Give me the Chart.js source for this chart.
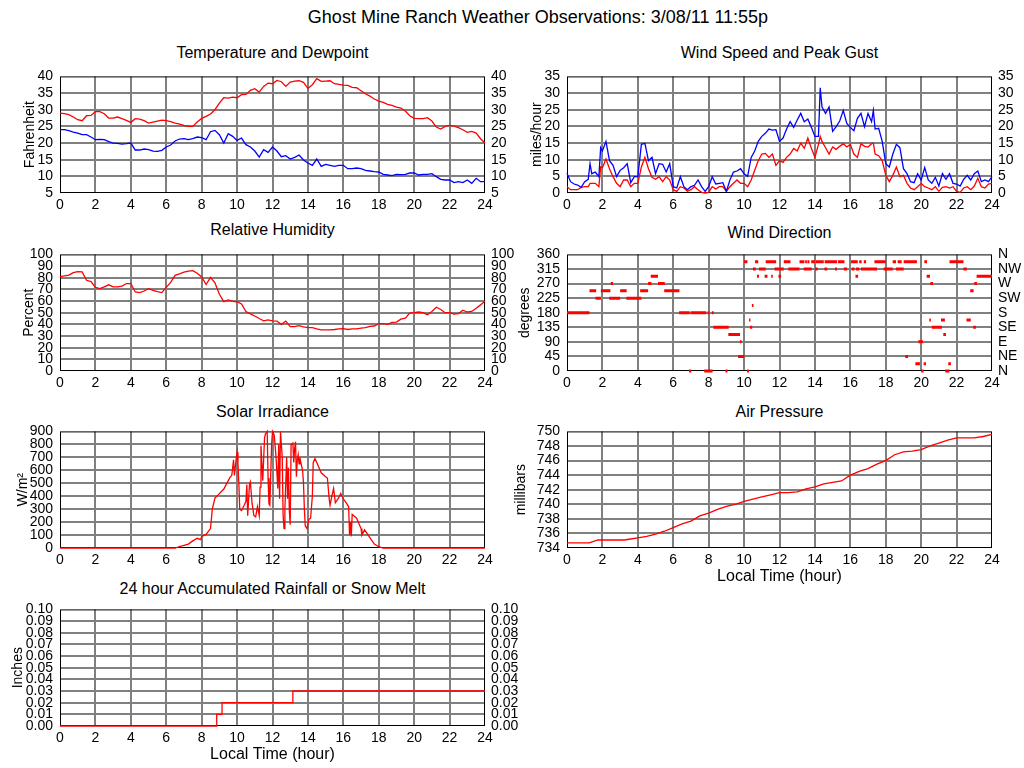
<!DOCTYPE html>
<html><head><meta charset="utf-8">
<script src="https://cdn.jsdelivr.net/npm/chart.js@4.4.1/dist/chart.umd.min.js"></script>
<style>
html,body{margin:0;padding:0;background:#fff;overflow:hidden;font-family:"Liberation Sans",Arial,sans-serif;color:#000}
canvas{position:absolute}
.t{position:absolute;width:425px;text-align:center;font-size:16px;line-height:18px;white-space:nowrap}
</style></head><body>
<div style="position:absolute;left:52px;width:972px;top:7px;text-align:center;font-size:18px;line-height:20px">Ghost Mine Ranch Weather Observations: 3/08/11 11:55p</div>
<div class="t" style="left:60px;top:44px">Temperature and Dewpoint</div>
<div class="t" style="left:567px;top:44px">Wind Speed and Peak Gust</div>
<div class="t" style="left:60px;top:221px">Relative Humidity</div>
<div class="t" style="left:567px;top:224px">Wind Direction</div>
<div class="t" style="left:60px;top:403px">Solar Irradiance</div>
<div class="t" style="left:567px;top:403px">Air Pressure</div>
<div class="t" style="left:60px;top:580px">24 hour Accumulated Rainfall or Snow Melt</div>
<canvas id="cTemp" width="525" height="154" style="left:0;top:61px"></canvas>
<canvas id="cWind" width="517" height="154" style="left:507px;top:61px"></canvas>
<canvas id="cHum" width="525" height="154" style="left:0;top:239px"></canvas>
<canvas id="cDir" width="517" height="154" style="left:507px;top:239px"></canvas>
<canvas id="cSolar" width="525" height="154" style="left:0;top:416px"></canvas>
<canvas id="cPress" width="517" height="178" style="left:507px;top:416px"></canvas>
<canvas id="cRain" width="525" height="178" style="left:0;top:594px"></canvas>
<script>
// quarter-hour samples
const qHours=[0,0.25,0.5,0.75,1,1.25,1.5,1.75,
2,2.25,2.5,2.75,3,3.25,3.5,3.75,
4,4.25,4.5,4.75,5,5.25,5.5,5.75,
6,6.25,6.5,6.75,7,7.25,7.5,7.75,
8,8.25,8.5,8.75,9,9.25,9.5,9.75,
10,10.25,10.5,10.75,11,11.25,11.5,11.75,
12,12.25,12.5,12.75,13,13.25,13.5,13.75,
14,14.25,14.5,14.75,15,15.25,15.5,15.75,
16,16.25,16.5,16.75,17,17.25,17.5,17.75,
18,18.25,18.5,18.75,19,19.25,19.5,19.75,
20,20.25,20.5,20.75,21,21.25,21.5,21.75,
22,22.25,22.5,22.75,23,23.25,23.5,23.75,24];

const tempF=[29.0,28.8,28.5,27.8,27.0,26.7,28.2,28.3,
29.4,29.4,28.8,27.5,27.5,27.8,27.3,26.8,
26.2,27.3,27.2,26.7,26.0,26.3,26.6,26.9,
26.7,26.4,26.0,25.7,25.3,25.0,25.0,26.3,
27.4,28.0,28.7,30.0,32.0,33.6,33.5,33.8,
33.6,34.5,34.6,35.8,36.3,35.3,37.0,38.0,
37.8,38.8,38.4,37.0,38.3,38.6,38.7,38.2,
36.4,37.5,39.3,38.5,38.6,38.7,37.8,37.6,
37.4,37.3,36.7,36.6,35.7,34.8,34.1,33.2,
32.6,32.2,31.6,31.3,30.8,30.5,29.6,28.2,
27.4,27.3,27.3,27.6,26.6,24.8,24.2,25.0,
25.3,25.1,24.6,24.0,23.2,23.5,23.0,21.3,20.0];

const dewF=[24.0,24.0,23.7,23.3,23.0,22.5,22.5,21.8,
21.0,21.1,21.0,20.4,20.0,19.9,19.7,19.8,
20.0,17.9,17.9,18.2,18.0,17.6,17.5,17.8,
18.8,19.4,20.6,21.2,21.3,21.0,21.3,21.8,
21.6,21.0,23.4,23.8,22.5,20.0,22.8,22.0,
20.8,21.5,19.5,18.8,17.6,15.8,18.0,17.2,
18.8,17.6,15.9,16.2,15.2,15.7,16.4,14.9,
14.0,13.3,15.2,13.0,13.6,13.3,13.0,13.3,
13.3,12.3,12.3,12.5,12.3,11.8,11.6,11.4,
11.3,10.6,10.4,10.2,10.6,10.5,10.6,11.0,
11.0,10.4,10.6,10.6,10.8,9.9,9.1,8.9,
8.9,8.1,8.4,8.1,8.9,7.9,9.4,8.4,8.4];

const humidity=[81,81.5,82.2,84.4,85.3,85,77.8,76.7,
71.7,70.6,72.2,73.9,72.2,72.2,72.8,75,
75,67.8,67.2,68.6,70.6,69.2,68,67.2,
71.7,76,82,83.3,84.7,85.6,86.1,83.9,
80.6,74.2,80.3,75.6,65.8,59.5,61,59.7,
59.4,57.5,51,49,47.2,45,43,43.9,
43,42.8,40,42.8,38,38,38.9,37.8,
37.2,37.2,36.1,35.3,35.3,35.3,35.6,36.1,
36.4,35.6,36.1,36.1,36.7,37.2,38.3,38.6,
40.6,40.6,40,41.7,41.9,44.4,45.3,49.7,
50,50.6,50,48.3,51,54.7,52.8,50,
50,48.9,49.2,52.2,50.6,51.1,53.9,56.7,60];

// wind samples
const windHours=[0,0.2,0.4,0.6,0.8,1,1.2,1.3,1.4,1.6,1.8,
1.9,2,2.2,2.4,2.6,2.8,3,3.2,3.4,3.6,3.8,
4,4.2,4.4,4.6,4.8,5,5.2,5.4,5.6,5.8,
6,6.2,6.4,6.6,6.8,7,7.2,7.4,7.6,7.8,
8,8.2,8.4,8.6,8.8,9,9.2,9.4,9.6,9.8,
10,10.2,10.4,10.6,10.8,11,11.2,11.4,11.6,11.8,
12,12.2,12.4,12.6,12.8,13,13.2,13.4,13.6,13.8,
14,14.2,14.3,14.4,14.6,14.8,15,15.2,15.4,15.6,15.8,
16,16.2,16.4,16.6,16.8,17,17.2,17.3,17.4,17.6,17.8,
18,18.2,18.4,18.6,18.8,19,19.2,19.4,19.6,19.8,
20,20.2,20.4,20.6,20.8,21,21.2,21.4,21.6,21.8,
22,22.2,22.4,22.6,22.8,23,23.2,23.4,23.6,23.8,24];

const gustMph=[5.9,3.4,2.7,2.4,1.7,3.4,4.1,8.8,5.8,6.3,4.9,
13.6,12.6,15.5,9.7,8.3,4.9,6.8,7.6,8.8,3.1,4.9,
4.9,14.6,14.9,9.7,10.7,5.8,8.8,8.6,6.3,8.8,
1.9,1.5,4.9,1.9,1.0,1.9,2.3,3.9,1.9,0.5,
1.9,4.9,2.7,2.9,3.1,0.5,3.9,6.3,6.6,7.3,
5.8,5.0,10.7,12.6,15.5,17.0,17.9,19.2,18.9,19.0,
15.5,16.5,19.2,21.4,19.7,21.9,23.9,21.4,22.2,19.7,
17.0,17.0,31.6,25.8,23.9,25.8,18.5,19.9,21.6,24.8,20.9,
19.7,18.7,22.4,23.9,19.9,23.9,21.4,24.8,19.2,19.4,15.5,
8.8,7.8,11.7,14.6,13.6,7.3,5.8,3.4,3.1,5.8,
3.9,7.6,3.9,2.9,4.7,2.1,5.8,4.1,5.8,2.9,
2.7,2.1,4.1,5.3,3.9,5.8,6.6,3.4,3.9,3.4,4.9];

const speedMph=[1.9,1.0,1.0,1.0,1.7,1.9,1.9,2.9,2.9,2.9,1.9,
7.8,7.6,10.2,7.3,4.9,2.9,1.9,3.9,3.9,1.9,2.9,
2.9,7.8,10.7,7.3,4.7,4.1,4.9,3.4,4.9,3.9,
1.0,0.5,1.9,1.5,0.5,1.0,1.9,1.0,0.2,0,
0.2,1.9,1.2,1.9,1.9,0.5,1.9,2.9,3.9,2.9,
2.9,1.9,3.9,6.8,9.7,11.7,11.9,10.7,11.7,8.3,
9.7,9.2,10.7,11.7,13.4,12.6,15.0,13.4,16.5,13.4,
10.7,14.6,17.0,15.5,13.6,11.7,13.8,13.1,14.0,14.8,13.8,
14.6,11.7,10.7,14.8,14.0,13.8,14.8,15.0,11.7,11.2,9.7,
5.3,3.4,5.3,7.8,4.9,5.3,2.9,1.5,1.0,1.9,
2.9,1.9,1.5,1.0,1.9,0.5,1.7,1.9,1.5,1.9,
0.5,0.2,1.5,1.9,1.0,2.1,4.4,1.9,1.5,2.7,2.9];

// wind direction runs: start hour, end hour, degrees
const dirStart=[0,1.27,1.61,1.91,2.47,2.38,3.0,3.35,4.13,4.58,4.73,5.14,5.49,6.33,6.89,6.98,7.75,7.94,8.18,8.26,8.95,9.11,9.76,9.66,
10.0,10.17,10.28,10.33,10.44,10.5,10.62,10.73,10.84,11.16,11.22,11.53,11.72,11.94,12.24,12.5,13.13,13.45,13.58,13.37,13.79,14.05,14.55,15.3,
14.01,14.54,15.14,15.63,16.04,16.08,16.29,16.32,16.5,16.76,16.6,17.36,17.88,18.39,18.58,18.67,19.01,19.1,19.67,19.84,20.0,20.14,20.18,20.31,
20.46,20.52,20.6,21.12,21.25,21.36,21.53,21.6,22.39,22.56,22.77,22.94,23.0,23.13];
const dirEnd=[1.27,1.65,1.91,2.45,2.6,3.0,3.37,4.2,4.58,4.77,5.14,5.52,6.35,6.93,7.02,7.86,8.22,8.05,8.28,9.13,9.06,9.77,9.86,10.02,
10.19,10.28,10.36,10.46,10.53,10.66,10.8,10.84,11.22,11.32,11.81,11.62,12.24,12.09,12.62,13.13,13.41,13.55,13.69,13.82,14.0,14.5,15.25,15.67,
14.16,14.69,15.25,15.82,16.42,16.23,16.44,16.51,16.64,16.89,17.51,18.0,18.39,18.58,19.01,18.9,19.76,19.26,19.93,20.1,20.14,20.27,20.33,20.5,
20.55,20.67,21.17,21.34,21.4,21.59,21.68,22.39,22.58,22.8,22.96,23.09,23.15,24];
const dirDeg=[180,247.5,225,247.5,270,225,247.5,225,247.5,270,292.5,270,247.5,180,0,180,0,180,180,135,0,112.5,90,45,
337.5,0,157.5,135,202.5,315,337.5,292.5,315,292.5,337.5,292.5,315,292.5,337.5,315,337.5,337.5,337.5,315,337.5,337.5,337.5,337.5,
315,315,315,315,337.5,315,292.5,315,337.5,337.5,315,337.5,315,337.5,315,337.5,337.5,45,22.5,90,0,22.5,337.5,292.5,
157.5,270,135,157.5,112.5,0,22.5,337.5,315,157.5,247.5,135,270,292.5];
const compass=['N','NE','E','SE','S','SW','W','NW','N'];

const solarHours=[0,6.5,6.75,7,7.25,7.5,7.75,7.95,8,8.25,8.5,8.6,8.75,9,9.25,9.5,9.6,9.7,9.8,9.85,9.95,
10,10.05,10.1,10.15,10.25,10.4,10.5,10.55,10.6,10.7,10.75,10.85,10.95,11.05,11.15,11.25,11.3,11.35,11.45,11.55,11.6,11.7,11.75,11.8,11.85,11.95,
12,12.1,12.2,12.3,12.35,12.4,12.45,12.55,12.6,12.65,12.7,12.8,12.85,12.9,12.95,13,13.05,13.15,13.2,13.25,13.3,13.35,13.4,13.45,13.5,13.55,13.6,13.7,13.75,13.8,13.85,13.95,
14.05,14.15,14.25,14.3,14.4,14.5,14.75,15,15.1,15.2,15.25,15.35,15.45,15.55,15.75,15.85,16,16.2,16.3,16.35,16.4,16.45,16.5,16.75,17,17.05,17.2,17.5,17.75,18,18.25,24];
const solarW=[0,0,10,20,30,55,75,65,90,105,150,300,385,420,455,520,545,560,680,560,690,
740,650,500,300,290,330,360,490,250,490,510,340,250,240,320,250,470,790,520,850,880,900,540,340,330,800,
900,870,700,460,800,380,900,700,250,150,300,700,380,620,290,180,800,810,660,770,820,550,680,720,650,700,660,600,500,300,170,150,
220,230,400,660,690,660,580,550,540,380,330,400,460,350,390,420,380,340,320,100,200,90,260,230,150,100,140,80,30,10,0,0];

const pressHours=[0,1.25,1.5,1.75,3.25,3.5,4,4.5,5,5.5,6,6.5,7,7.5,8,8.5,9,9.5,10,10.5,11,11.5,12,12.5,13,13.5,
14,14.5,15,15.5,16,16.5,17,17.5,18,18.5,19,19.5,20,20.5,21,21.5,22,22.5,23,23.5,24];
const pressMb=[734.7,734.7,734.9,735.1,735.1,735.2,735.4,735.6,735.9,736.3,736.8,737.3,737.7,738.4,738.8,739.3,
739.7,740.0,740.4,740.7,741.0,741.3,741.6,741.6,741.7,742.1,742.4,742.8,743.0,743.2,744.0,744.5,744.9,745.5,746.0,746.8,
747.2,747.3,747.5,748.0,748.4,748.8,749.1,749.1,749.1,749.3,749.6];

const rainHours=[0,8.85,9.15,13.15,24];
const rainIn=[0,0.01,0.02,0.03,0.03];

Chart.defaults.font.family='"Liberation Sans", Arial, sans-serif';
Chart.defaults.font.size=14;
Chart.defaults.color='#000';

const pts=(xs,ys)=>xs.map((x,i)=>({x:x,y:ys[i]}));
const gridCol=c=>(c.index===0||c.index===c.scale.ticks.length-1)?'rgba(0,0,0,0)':'#808080';
// black plot frame, drawn under the data
const frame={id:'frame',beforeDatasetsDraw(c){const a=c.chartArea,g=c.ctx;g.save();g.strokeStyle='#000';g.lineWidth=1;g.strokeRect(a.left+0.5,a.top+0.5,a.width-1,a.height-1);g.restore();}};

function panel(id,datasets,o){
  const tk=o.fmt?{callback:o.fmt}:{};
  const rtk=o.rfmt?{callback:o.rfmt}:tk;
  datasets.forEach(d=>{if(d.clip===undefined)d.clip=2;});
  new Chart(document.getElementById(id),{type:'line',
    data:{datasets:datasets},
    options:{responsive:false,animation:false,events:[],
      layout:{padding:{top:12,left:0,right:0,bottom:0}},
      plugins:{legend:{display:false},tooltip:{enabled:false}},
      elements:{point:{radius:0},line:{borderWidth:1.3,tension:0}},
      scales:{
        x:{type:'linear',min:0,max:24,border:{display:false},grid:{color:gridCol,lineWidth:2,drawTicks:false},
          ticks:{stepSize:2,padding:4,maxRotation:0,autoSkip:false},
          title:{display:!!o.xtitle,text:'Local Time (hour)',font:{size:16},padding:{top:0,bottom:7.5}},
          afterFit(s){s.height=o.xtitle?46:22;}},
        y:{type:'linear',min:o.min,max:o.max,border:{display:false},grid:{color:gridCol,lineWidth:2,drawTicks:false},
          ticks:Object.assign({stepSize:o.step,padding:7,autoSkip:false},tk),
          title:{display:true,text:o.title,font:{size:14},padding:{top:o.tpad,bottom:0}},
          afterFit(s){s.width=60;}},
        y2:{type:'linear',position:'right',min:o.min,max:o.max,border:{display:false},grid:{display:false,drawTicks:false},
          ticks:Object.assign({display:!o.noRight,stepSize:o.step,padding:6,autoSkip:false},rtk),
          afterFit(s){s.width=o.rw;}}
      }},
    plugins:[frame]});
}

// Temperature and Dewpoint
panel('cTemp',[
  {data:pts(qHours,tempF),borderColor:'#ff0000',yAxisID:'y'},
  {data:pts(qHours,dewF),borderColor:'#0000ff',yAxisID:'y'}],
  {min:5,max:40,step:5,title:'Fahrenheit',tpad:22,rw:40});

// Wind speed and gust
panel('cWind',[
  {data:pts(windHours,gustMph),borderColor:'#0000ff',yAxisID:'y'},
  {data:pts(windHours,speedMph),borderColor:'#ff0000',yAxisID:'y'}],
  {min:0,max:35,step:5,title:'miles/hour',tpad:22,rw:32});

// Relative humidity
panel('cHum',[{data:pts(qHours,humidity),borderColor:'#ff0000',yAxisID:'y'}],
  {min:0,max:100,step:10,title:'Percent',tpad:21,rw:40});

// Wind direction as short runs
const dirPts=[];
dirStart.forEach((s,i)=>{dirPts.push({x:s,y:dirDeg[i]},{x:dirEnd[i],y:dirDeg[i]},{x:dirEnd[i],y:null});});
panel('cDir',[{data:dirPts,borderColor:'#ff0000',borderWidth:3,borderCapStyle:'butt',spanGaps:false,clip:6,yAxisID:'y'}],
  {min:0,max:360,step:45,title:'degrees',tpad:10,rw:32,rfmt:v=>compass[Math.round(v/45)]});

// Solar irradiance
panel('cSolar',[{data:pts(solarHours,solarW),borderColor:'#ff0000',yAxisID:'y'}],
  {min:0,max:900,step:100,title:'W/m\u00b2',tpad:15,rw:40,noRight:true});

// Air pressure
panel('cPress',[{data:pts(pressHours,pressMb),borderColor:'#ff0000',yAxisID:'y'}],
  {min:734,max:750,step:2,title:'millibars',tpad:6,rw:32,noRight:true,xtitle:true});

// Rain
panel('cRain',[{data:pts(rainHours,rainIn),borderColor:'#ff0000',stepped:'before',yAxisID:'y'}],
  {min:0,max:0.1,step:0.01,title:'Inches',tpad:10,rw:40,xtitle:true,fmt:v=>v.toFixed(2)});
</script>
</body></html>
